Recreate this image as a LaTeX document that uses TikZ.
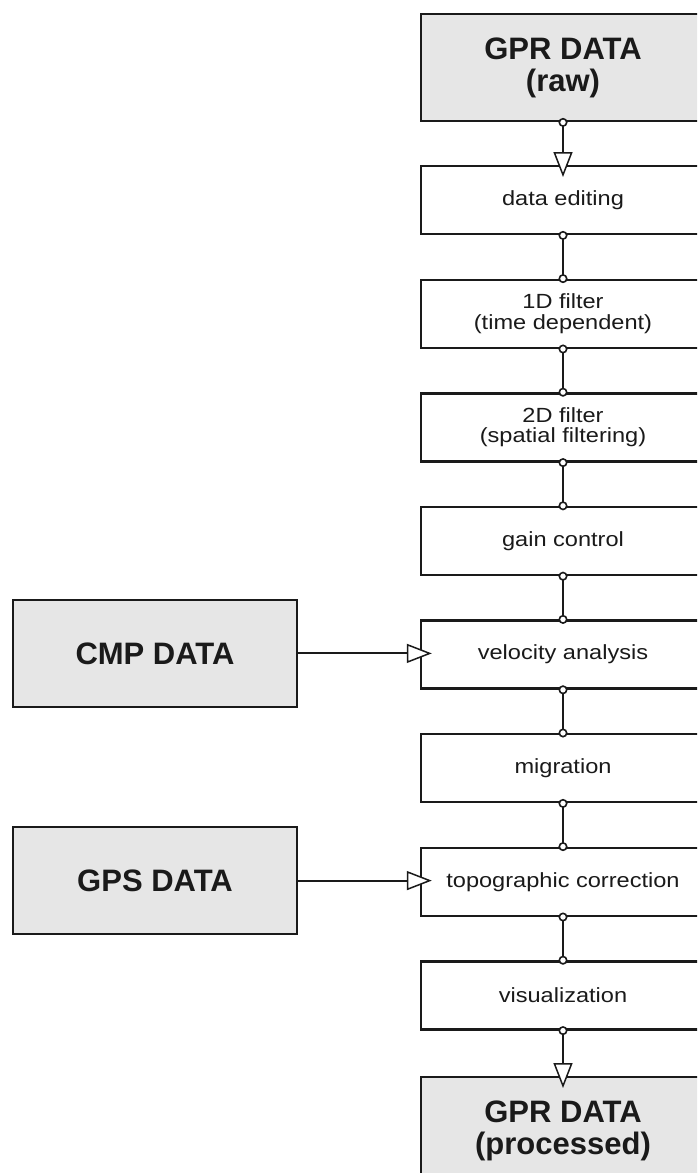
\documentclass[tikz,border=0pt]{standalone}
\usepackage{fontspec}
\setmainfont{Liberation Sans}
\newfontfamily\stepfont[FakeStretch=1.15]{Liberation Sans}
\usetikzlibrary{arrows.meta}
\definecolor{boxgray}{HTML}{E6E6E6}
\definecolor{ink}{HTML}{1A1A1A}
\tikzset{
	stepbox/.style={draw=ink, line width=2.4pt, fill=white, text=ink, minimum width=284pt, minimum height=68pt, inner sep=0pt, anchor=north, align=center, font=\stepfont\fontsize{20.5}{20.5}\selectfont},
	databox/.style={draw=ink, line width=2.4pt, fill=boxgray, text=ink, minimum width=284pt, minimum height=107pt, inner sep=0pt, align=center, font=\bfseries\fontsize{31}{32}\selectfont},
	link/.style={draw=ink, line width=2.2pt, {Circle[fill=white, length=9pt, line width=1.6pt]}-{Circle[fill=white, length=9pt, line width=1.6pt]}, shorten <=-4.5pt, shorten >=-4.5pt},
	feed/.style={draw=ink, line width=2pt, -{Triangle[fill=white, length=25pt, width=19pt, line width=1.5pt]}, shorten >=-12pt},
	outfeed/.style={draw=ink, line width=2.2pt, {Circle[fill=white, length=9pt, line width=1.6pt]}-{Triangle[fill=white, length=25pt, width=19pt, line width=1.5pt]}, shorten <=-4.5pt, shorten >=-12pt}
}
\begin{document}
\begin{tikzpicture}[x=1pt, y=-1pt]
	\useasboundingbox (0,0) rectangle (697,1173);
	\clip (0,0) rectangle (697,1173);
	% processing chain
	\node[databox, anchor=north] (raw) at (563,13) {GPR DATA\\(raw)};
	\node[stepbox] (edit) at (563,165) {data editing};
	\node[stepbox] (filt1) at (563,278.6) {1D filter\\(time dependent)};
	\node[stepbox] (filt2) at (563,392.2) {2D filter\\(spatial filtering)};
	\node[stepbox] (gain) at (563,505.8) {gain control};
	\node[stepbox] (velo) at (563,619.4) {velocity analysis};
	\node[stepbox] (migr) at (563,733) {migration};
	\node[stepbox] (topo) at (563,846.6) {topographic correction};
	\node[stepbox] (visu) at (563,960.2) {visualization};
	\node[databox, anchor=north] (proc) at (563,1076) {GPR DATA\\(processed)};
	% extra inputs
	\node[databox] (cmp) at (155,653.4) {CMP DATA};
	\node[databox] (gps) at (155,880.6) {GPS DATA};
	% connectors
	\draw[outfeed] (raw.south) -- (edit.north);
	\draw[link] (edit.south) -- (filt1.north);
	\draw[link] (filt1.south) -- (filt2.north);
	\draw[link] (filt2.south) -- (gain.north);
	\draw[link] (gain.south) -- (velo.north);
	\draw[link] (velo.south) -- (migr.north);
	\draw[link] (migr.south) -- (topo.north);
	\draw[link] (topo.south) -- (visu.north);
	\draw[outfeed] (visu.south) -- (proc.north);
	\draw[feed] (cmp.east) -- (cmp.east -| velo.west);
	\draw[feed] (gps.east) -- (gps.east -| topo.west);
\end{tikzpicture}
\end{document}
